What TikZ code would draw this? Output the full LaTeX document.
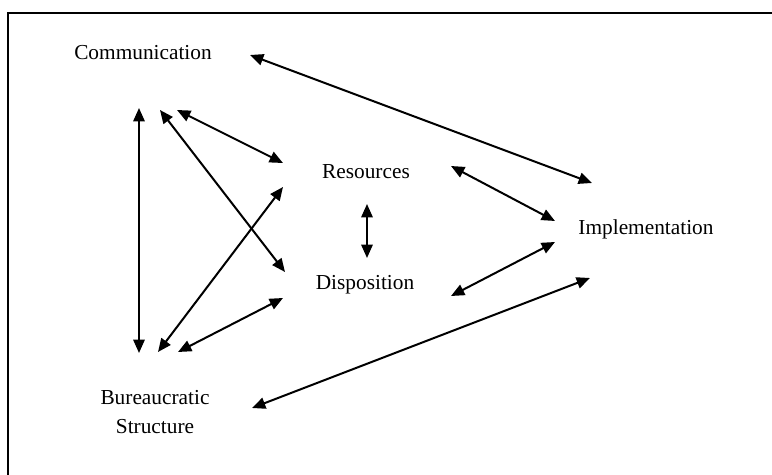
\documentclass[tikz,border=0pt]{standalone}
\usepackage{fontspec}
\setmainfont{Liberation Serif}
\usepackage{tikz}
\usetikzlibrary{arrows.meta,calc}

\begin{document}
\begin{tikzpicture}[x=0.75pt,y=-0.75pt,>={Triangle[length=10pt,width=8.5pt]},
  factor/.style={inner sep=0pt,align=center,font=\fontsize{16}{22}\selectfont},
  link/.style={<->,line width=1.5pt}]
\useasboundingbox (0,0) rectangle (772,475);
\draw[line width=1.6pt] (8,475)--(8,13)--(772,13);
% the five factors
\node[factor] (comm) at (143,53) {Communication};
\node[factor] (res) at (366,172) {Resources};
\node[factor] (disp) at (365,285) {Disposition};
\node[factor] (impl) at (646,229) {Implementation};
\node[factor] (bur) at (155,412) {Bureaucratic\\Structure};
% links
\draw[link] ($(comm)+(107,2)$)--($(impl)+(-54,-46)$);
\draw[link] ($(comm)+(-4,55)$)--($(bur)+(-16,-59)$);
\draw[link] ($(comm)+(17,57)$)--($(disp)+(-80,-13)$);
\draw[link] ($(comm)+(34,57)$)--($(res)+(-83,-9)$);
\draw[link] ($(res)+(-83,15)$)--($(bur)+(3,-60)$);
\draw[link] ($(bur)+(23,-60)$)--($(disp)+(-82,13)$);
\draw[link] ($(bur)+(97,-4)$)--($(impl)+(-56,49)$);
\draw[link] ($(res)+(1,32)$)--($(disp)+(2,-27)$);
\draw[link] ($(res)+(85,-6)$)--($(impl)+(-91,-8)$);
\draw[link] ($(disp)+(86,11)$)--($(impl)+(-91,13)$);
\end{tikzpicture}
\end{document}
